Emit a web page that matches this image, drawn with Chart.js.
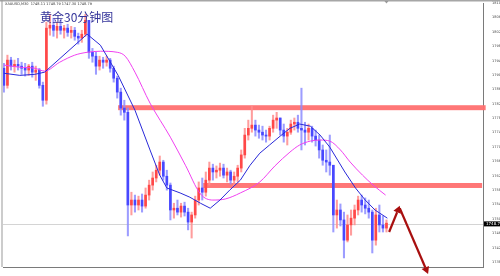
<!DOCTYPE html>
<html>
<head>
<meta charset="utf-8">
<script src="https://cdn.jsdelivr.net/npm/chart.js@4.4.0/dist/chart.umd.min.js"></script>
<style>
  html, body { margin: 0; padding: 0; background: #fff; }
  #wrap { width: 500px; height: 276px; position: relative; }
</style>
</head>
<body>
<div id="wrap"><canvas id="chart" width="500" height="276"></canvas></div>
<script>
// header + title text
const symbolHeader = 'XAUUSD,M30  1748.11 1748.79 1747.30 1748.79';
const chartTitle = '黄金30分钟图';
const lastPrice = 1748.79;

// candles, sampled every 4 bars of the M30 chart
const barStep = 4;
const firstOpen = 1792.6;
const closes = [
  1787.8, 1794.9, 1793.2, 1793.7, 1793.2, 1792.6, 1792.1, 1793.2, 1791.5, 1792.1,
  1787.8, 1783.6, 1803.9, 1804.7, 1803.3, 1804.4, 1803.3, 1803.9, 1802.7, 1803.3,
  1801.6, 1801.1, 1802.2, 1806.1, 1797.1, 1796.0, 1793.2, 1794.9, 1794.3, 1794.9,
  1792.6, 1789.8, 1785.9, 1781.4, 1780.2, 1754.1, 1755.5, 1754.1, 1755.5, 1753.8,
  1756.9, 1759.7, 1761.7, 1763.9, 1766.2, 1762.2, 1759.7, 1752.7, 1753.2, 1752.1,
  1753.8, 1752.1, 1749.3, 1751.3, 1755.5, 1758.9, 1757.7, 1761.1, 1764.5, 1763.4,
  1763.9, 1764.5, 1762.5, 1763.4, 1761.1, 1762.2, 1764.5, 1768.2, 1773.8, 1775.7,
  1776.6, 1775.2, 1774.6, 1773.8, 1773.5, 1775.7, 1778.0, 1778.6, 1775.2, 1773.5,
  1774.6, 1776.9, 1777.4, 1775.7, 1775.2, 1774.6, 1775.7, 1773.5, 1772.4, 1769.6,
  1766.7, 1766.2, 1765.3, 1751.3, 1752.7, 1749.9, 1744.2, 1748.5, 1750.4, 1752.7,
  1755.5, 1754.1, 1753.2, 1752.1, 1744.2, 1751.3, 1748.5, 1747.6, 1749.0
];
const highs = [
  1794.0, 1796.3, 1795.7, 1794.9, 1795.4, 1794.3, 1794.0, 1793.7, 1794.3, 1793.2,
  1792.6, 1788.7, 1805.6, 1807.8, 1806.7, 1805.6, 1806.1, 1804.7, 1805.0, 1804.4,
  1804.1, 1802.5, 1803.3, 1807.8, 1806.1, 1798.2, 1797.1, 1796.0, 1795.7, 1796.0,
  1795.4, 1793.2, 1790.4, 1787.0, 1783.6, 1781.4, 1757.7, 1756.9, 1756.6, 1757.2,
  1758.9, 1761.1, 1763.4, 1765.3, 1767.9, 1766.7, 1763.9, 1760.3, 1754.6, 1755.5,
  1754.6, 1754.9, 1753.2, 1752.1, 1756.6, 1760.6, 1761.7, 1763.4, 1766.2, 1765.6,
  1765.1, 1765.9, 1765.6, 1764.5, 1763.9, 1763.4, 1765.3, 1769.6, 1775.7, 1778.0,
  1781.9, 1778.0, 1776.6, 1776.3, 1775.2, 1776.3, 1779.4, 1780.2, 1778.6, 1776.9,
  1775.7, 1778.0, 1778.6, 1779.4, 1787.0, 1777.4, 1776.9, 1776.3, 1775.2, 1773.8,
  1771.0, 1769.6, 1773.8, 1765.3, 1755.5, 1754.4, 1752.1, 1751.3, 1752.7, 1754.1,
  1756.6, 1756.9, 1756.1, 1755.5, 1752.7, 1753.2, 1754.1, 1751.0, 1749.9
];
const lows = [
  1785.9, 1787.0, 1792.1, 1791.5, 1792.1, 1790.9, 1790.4, 1790.6, 1790.1, 1789.2,
  1787.0, 1781.9, 1782.5, 1801.9, 1801.6, 1801.1, 1802.2, 1801.1, 1801.6, 1801.1,
  1800.5, 1799.4, 1799.9, 1801.6, 1795.4, 1794.3, 1790.9, 1792.1, 1792.6, 1793.2,
  1791.5, 1788.7, 1784.2, 1779.4, 1778.0, 1745.4, 1751.3, 1752.1, 1752.7, 1752.1,
  1753.2, 1755.5, 1758.3, 1760.6, 1762.5, 1761.1, 1758.3, 1749.9, 1750.4, 1751.3,
  1750.7, 1751.0, 1747.1, 1744.8, 1750.4, 1754.1, 1755.5, 1756.6, 1759.7, 1761.1,
  1761.7, 1762.2, 1761.7, 1760.6, 1760.0, 1759.4, 1760.6, 1763.4, 1767.3, 1772.4,
  1774.6, 1773.5, 1772.9, 1772.4, 1771.8, 1772.4, 1774.6, 1775.7, 1773.8, 1771.8,
  1771.0, 1774.0, 1775.2, 1774.6, 1769.6, 1771.0, 1772.4, 1771.8, 1770.7, 1767.3,
  1765.3, 1763.4, 1762.5, 1746.5, 1747.6, 1748.2, 1739.2, 1743.7, 1745.6, 1748.5,
  1751.3, 1752.1, 1751.6, 1750.4, 1740.6, 1742.8, 1746.5, 1746.5, 1746.5
];

// moving averages (bar index, price)
const blueMaIdx = [0, 18, 35, 46, 94, 109, 129, 148, 165, 176, 184, 199, 210, 222, 233, 244,
  255, 267, 278, 289, 300, 312, 323, 334, 346, 357, 368, 385, 397, 408, 419, 433];
const blueMa = [1791.2, 1790.6, 1790.9, 1791.5, 1802.2, 1799.1, 1790.6, 1780.8, 1769.6, 1762.5,
  1758.9, 1757.5, 1756.3, 1754.6, 1753.2, 1755.5, 1758.3, 1761.1, 1765.3, 1768.7, 1771.0,
  1773.5, 1775.7, 1776.9, 1776.3, 1773.8, 1770.4, 1763.4, 1758.9, 1755.5, 1752.7, 1750.4];
const pinkMaIdx = [0, 18, 35, 46, 63, 80, 94, 109, 128, 137, 148, 165, 188, 205, 222, 236,
  250, 267, 289, 306, 323, 334, 346, 357, 368, 380, 391, 405, 417, 431];
const pinkMa = [1793.5, 1792.9, 1792.6, 1791.8, 1794.3, 1796.3, 1797.1, 1797.4, 1797.1, 1796.0,
  1791.5, 1782.8, 1773.2, 1765.3, 1757.2, 1755.5, 1755.8, 1757.5, 1760.6, 1765.1, 1769.0,
  1771.0, 1772.1, 1772.4, 1772.1, 1769.6, 1766.2, 1762.5, 1759.7, 1756.9];

// axes
const timeTickIdx = [-1, 30, 62, 94, 126, 158, 190, 222, 254, 286, 318, 350, 382, 414];
const timeLabels = ['13 Sep 2021', '14 Sep 06:30', '14 Sep 22:30', '15 Sep 15:30', '16 Sep 08:30',
  '17 Sep 01:30', '17 Sep 17:30', '20 Sep 10:30', '21 Sep 03:30', '21 Sep 19:30',
  '22 Sep 11:30', '23 Sep 03:30', '23 Sep 19:30', '24 Sep 14:30'];
const priceTicks = [1738.05, 1742.10, 1746.15, 1750.20, 1754.25, 1758.30, 1762.35, 1766.40,
  1770.45, 1774.50, 1778.55, 1782.60, 1786.65, 1790.70, 1794.75, 1798.80, 1802.85, 1806.90, 1810.95];

// drawn objects: resistance / support zones and the two arrows
const zoneFrom = [129, 225];
const zoneTo = [544, 540];
const zoneHigh = [1782.2, 1760.3];
const zoneLow = [1780.8, 1758.9];
const arrowFromIdx = [435, 447];
const arrowFromPrice = [1746.5, 1753.2];
const arrowToIdx = [447, 479];
const arrowToPrice = [1753.9, 1734.7];

const opens = closes.map((c, k) => (k === 0 ? firstOpen : closes[k - 1]));
const candleX = closes.map((c, k) => k * barStep);
const isUp = (k) => closes[k] >= opens[k];

const wickData = candleX.map((x, k) => ({ x, y: [lows[k], highs[k]] }));
const bodyData = candleX.map((x, k) => ({
  x, y: [Math.min(opens[k], closes[k]), Math.max(opens[k], closes[k])]
}));

function drawArrow(ctx, x0, y0, x1, y1) {
  const ang = Math.atan2(y1 - y0, x1 - x0);
  const head = 7;
  const bx = x1 - head * Math.cos(ang), by = y1 - head * Math.sin(ang);
  ctx.beginPath();
  ctx.moveTo(x0, y0);
  ctx.lineTo(bx, by);
  ctx.stroke();
  ctx.beginPath();
  ctx.moveTo(x1, y1);
  ctx.lineTo(bx + 4 * Math.sin(ang), by - 4 * Math.cos(ang));
  ctx.lineTo(bx - 4 * Math.sin(ang), by + 4 * Math.cos(ang));
  ctx.closePath();
  ctx.fill();
}

const decor = {
  id: 'decor',
  beforeDatasetsDraw(chart) {
    const { ctx, chartArea: a, scales: { x, y } } = chart;
    ctx.save();
    const py = Math.round(y.getPixelForValue(lastPrice)) + 0.5;
    ctx.strokeStyle = '#d4d4d4';
    ctx.lineWidth = 1;
    ctx.beginPath();
    ctx.moveTo(a.left, py);
    ctx.lineTo(a.right, py);
    ctx.stroke();

    ctx.fillStyle = 'rgba(255,112,112,0.95)';
    zoneFrom.forEach((f, n) => {
      const x0 = x.getPixelForValue(f), x1 = x.getPixelForValue(zoneTo[n]);
      const y0 = y.getPixelForValue(zoneHigh[n]), y1 = y.getPixelForValue(zoneLow[n]);
      ctx.fillRect(x0, y0, x1 - x0, y1 - y0);
    });
    ctx.restore();
  },
  afterDraw(chart) {
    const { ctx, chartArea: a, scales: { x, y } } = chart;
    ctx.save();

    // window frame
    ctx.fillStyle = '#a6a6a6';
    ctx.fillRect(0, 0, 500, 1.5);
    ctx.fillStyle = '#9a9a9a';
    ctx.fillRect(1.5, 0, 1, a.bottom);

    // chart shift marker
    const mx = x.getPixelForValue(candleX[candleX.length - 1]);
    ctx.fillStyle = '#9a9a9a';
    ctx.beginPath();
    ctx.moveTo(mx - 2, 1);
    ctx.lineTo(mx + 2, 1);
    ctx.lineTo(mx, 3.5);
    ctx.closePath();
    ctx.fill();

    // header
    ctx.fillStyle = '#333';
    ctx.font = '3.5px "DejaVu Sans"';
    ctx.textBaseline = 'top';
    ctx.textAlign = 'left';
    ctx.fillText(symbolHeader, 5, 2.5);

    // title
    ctx.fillStyle = '#34349a';
    ctx.font = '12px "Noto Sans CJK SC"';
    ctx.fillText(chartTitle, 40, 11);

    // arrows
    ctx.strokeStyle = '#a80f0f';
    ctx.fillStyle = '#a80f0f';
    ctx.lineWidth = 2.2;
    arrowFromIdx.forEach((f, n) => {
      drawArrow(ctx,
        x.getPixelForValue(f), y.getPixelForValue(arrowFromPrice[n]),
        x.getPixelForValue(arrowToIdx[n]), y.getPixelForValue(arrowToPrice[n]));
    });

    // last price box
    const py = y.getPixelForValue(lastPrice);
    ctx.fillStyle = '#000';
    ctx.fillRect(a.right + 1, py - 2.5, 500 - a.right - 1, 5);
    ctx.fillStyle = '#fff';
    ctx.font = '4px "DejaVu Sans"';
    ctx.textBaseline = 'middle';
    ctx.fillText(lastPrice.toFixed(2), a.right + 3, py);
    ctx.restore();
  }
};

new Chart(document.getElementById('chart'), {
  type: 'bar',
  data: {
    datasets: [
      {
        type: 'line',
        data: blueMaIdx.map((v, n) => ({ x: v, y: blueMa[n] })),
        borderColor: '#2828d8',
        borderWidth: 1,
        pointRadius: 0,
        tension: 0,
        order: 1
      },
      {
        type: 'line',
        data: pinkMaIdx.map((v, n) => ({ x: v, y: pinkMa[n] })),
        borderColor: '#f040f0',
        borderWidth: 1,
        pointRadius: 0,
        cubicInterpolationMode: 'monotone',
        order: 1
      },
      {
        data: bodyData,
        grouped: false,
        barThickness: 2,
        minBarLength: 1,
        backgroundColor: (c) => (isUp(c.dataIndex) ? '#ff4848' : '#4848ff'),
        order: 2
      },
      {
        data: wickData,
        grouped: false,
        barThickness: 1.4,
        backgroundColor: (c) => (isUp(c.dataIndex) ? 'rgba(255,140,140,0.85)' : 'rgba(140,140,255,0.85)'),
        order: 3
      }
    ]
  },
  options: {
    responsive: false,
    animation: false,
    layout: { padding: { left: 3, top: 3, right: 0, bottom: 0 } },
    plugins: { legend: { display: false }, tooltip: { enabled: false } },
    scales: {
      x: {
        type: 'linear',
        min: -1,
        max: 541,
        offset: false,
        grid: { display: false },
        border: { color: '#7a7a7a' },
        afterBuildTicks: (s) => { s.ticks = timeTickIdx.map((v) => ({ value: v })); },
        afterFit: (s) => { s.height = 9; },
        ticks: {
          callback: (v, n) => timeLabels[n],
          align: 'start',
          autoSkip: false,
          maxRotation: 0,
          padding: 1,
          color: '#444',
          font: { size: 3, family: 'DejaVu Sans' }
        }
      },
      y: {
        type: 'linear',
        position: 'right',
        min: 1736.65,
        max: 1810.95,
        grid: { display: false },
        border: { color: '#7a7a7a' },
        afterBuildTicks: (s) => { s.ticks = priceTicks.map((v) => ({ value: v })); },
        afterFit: (s) => { s.width = 17; },
        ticks: {
          callback: (v) => v.toFixed(2),
          autoSkip: false,
          padding: 1,
          color: '#444',
          font: { size: 3.5, family: 'DejaVu Sans' }
        }
      }
    }
  },
  plugins: [decor]
});
</script>
</body>
</html>
